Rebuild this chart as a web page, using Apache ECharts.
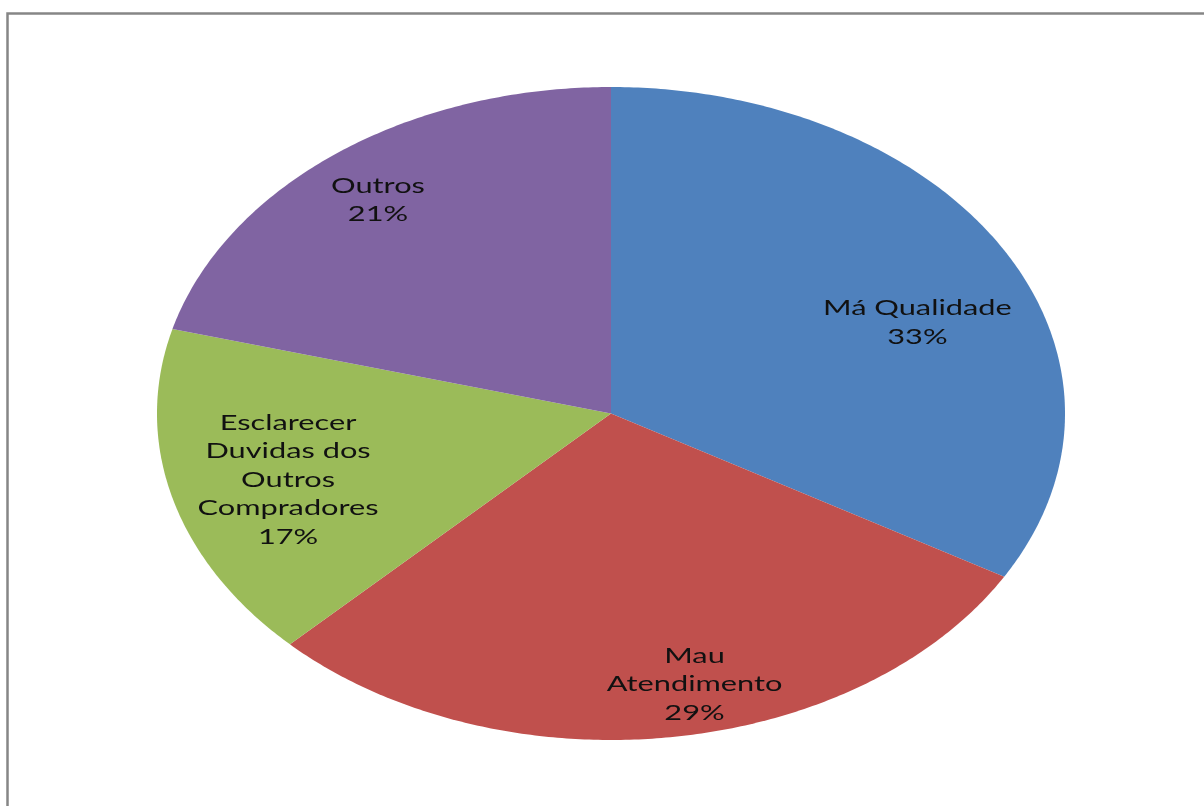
<!DOCTYPE html>
<html>
<head>
<meta charset="utf-8">
<script src="https://cdn.jsdelivr.net/npm/echarts@6/dist/echarts.min.js"></script>
<style>
  html, body { margin: 0; padding: 0; background: #fff; }
  #chart { width: 1204px; height: 806px; }
</style>
</head>
<body>
<div id="chart"></div>
<script>
// Motivos de reclamação — number of answers per reason (labels show the share)
const categories = ['Má Qualidade', 'Mau\nAtendimento', 'Esclarecer\nDuvidas dos\nOutros\nCompradores', 'Outros'];
const values = [8, 7, 4, 5];
const colors = ['#4F81BD', '#C0504D', '#9BBB59', '#8064A2'];

const total = values.reduce((a, b) => a + b, 0);
const starts = [];
let acc = 0;
values.forEach(v => { starts.push(acc); acc += v; });

// Inside-label placement per slice: distance from centre (fraction of radius)
// and a small angular nudge (degrees) away from the slice bisector.
const labelLayout = [
  { r: 0.73, nudge: 7.6 },
  { r: 0.85, nudge: -5 },
  { r: 0.74, nudge: -1 },
  { r: 0.83, nudge: -0.7 }
];

// Slices are drawn on a unit circle in data space; the grid stretches it into an ellipse.
function renderSlice(params, api) {
  const i = params.dataIndex;
  const a0 = starts[i] / total * Math.PI * 2;
  const a1 = (starts[i] + values[i]) / total * Math.PI * 2;
  const steps = Math.max(8, Math.ceil((a1 - a0) / 0.01));
  const pts = [api.coord([0, 0])];
  for (let k = 0; k <= steps; k++) {
    const a = a0 + (a1 - a0) * k / steps;
    pts.push(api.coord([Math.sin(a), Math.cos(a)]));
  }
  const lay = labelLayout[i];
  const mid = (a0 + a1) / 2 + lay.nudge * Math.PI / 180;
  const lp = api.coord([Math.sin(mid) * lay.r, Math.cos(mid) * lay.r]);
  const pct = Math.round(values[i] / total * 100) + '%';
  return {
    type: 'group',
    children: [
      {
        type: 'polygon',
        shape: { points: pts },
        style: { fill: colors[i], stroke: null }
      },
      {
        type: 'text',
        x: lp[0],
        y: lp[1],
        scaleX: 1.5,
        style: {
          text: categories[i] + '\n' + pct,
          fill: '#111',
          fontFamily: 'Lato',
          fontSize: 20.5,
          lineHeight: 28.5,
          align: 'center',
          verticalAlign: 'middle',
          textAlign: 'center',
          textVerticalAlign: 'middle'
        }
      }
    ]
  };
}

const chart = echarts.init(document.getElementById('chart'), null, { renderer: 'canvas' });
chart.setOption({
  backgroundColor: '#fff',
  animation: false,
  graphic: [{
    type: 'rect',
    shape: { x: 7.5, y: 13.5, width: 1400, height: 1000 },
    style: { fill: null, stroke: '#868686', lineWidth: 2.5 },
    z: 100
  }],
  grid: { left: 157, right: 139, top: 87, bottom: 66 },
  xAxis: { type: 'value', min: -1, max: 1, show: false },
  yAxis: { type: 'value', min: -1, max: 1, show: false },
  series: [{
    type: 'custom',
    renderItem: renderSlice,
    data: values.map((v, i) => [i, v]),
    encode: { x: -1, y: -1 },
    clip: false
  }]
});
</script>
</body>
</html>
